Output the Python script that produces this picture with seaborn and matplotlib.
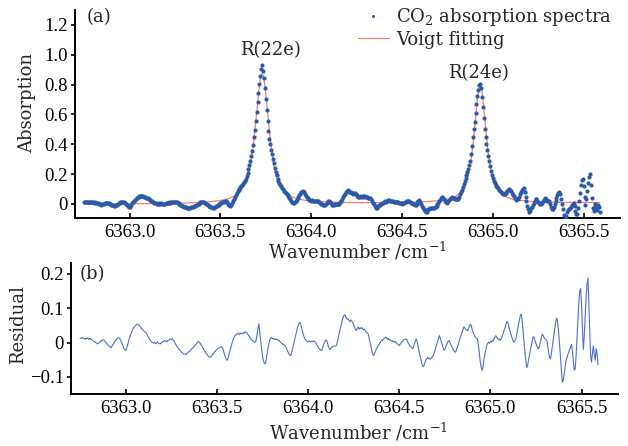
import numpy as np
import matplotlib
matplotlib.use("Agg")
import matplotlib.pyplot as plt
from matplotlib.lines import Line2D
from matplotlib.ticker import FixedLocator, FuncFormatter
import seaborn as sns

# Spectra are sampled every 0.005 cm^-1 starting at 6362.750 cm^-1
start_wavenumber = 6362.750
step = 0.005

# Voigt fitting curve (absorption)
fit = [
    0.000, 0.000, 0.000, 0.000, 0.000, 0.000, 0.000, 0.000, 0.000, 0.000,  # 6362.750
    0.000, 0.000, 0.000, 0.000, 0.000, 0.000, 0.000, 0.000, 0.000, 0.000,  # 6362.800
    0.000, 0.000, 0.000, 0.000, 0.000, 0.001, 0.001, 0.001, 0.001, 0.001,  # 6362.850
    0.001, 0.001, 0.001, 0.001, 0.001, 0.001, 0.001, 0.001, 0.001, 0.001,  # 6362.900
    0.001, 0.001, 0.001, 0.001, 0.001, 0.001, 0.001, 0.001, 0.001, 0.001,  # 6362.950
    0.002, 0.002, 0.002, 0.002, 0.002, 0.002, 0.002, 0.002, 0.002, 0.002,  # 6363.000
    0.002, 0.002, 0.002, 0.002, 0.002, 0.002, 0.002, 0.002, 0.002, 0.002,  # 6363.050
    0.003, 0.003, 0.003, 0.003, 0.003, 0.003, 0.003, 0.003, 0.003, 0.003,  # 6363.100
    0.003, 0.003, 0.003, 0.003, 0.003, 0.003, 0.004, 0.004, 0.004, 0.004,  # 6363.150
    0.004, 0.004, 0.004, 0.004, 0.004, 0.004, 0.005, 0.005, 0.005, 0.005,  # 6363.200
    0.005, 0.005, 0.005, 0.005, 0.005, 0.006, 0.006, 0.006, 0.006, 0.006,  # 6363.250
    0.006, 0.006, 0.007, 0.007, 0.007, 0.007, 0.007, 0.008, 0.008, 0.008,  # 6363.300
    0.008, 0.009, 0.009, 0.010, 0.010, 0.011, 0.011, 0.011, 0.012, 0.012,  # 6363.350
    0.012, 0.013, 0.013, 0.013, 0.014, 0.014, 0.015, 0.015, 0.016, 0.016,  # 6363.400
    0.016, 0.017, 0.018, 0.018, 0.019, 0.020, 0.021, 0.021, 0.022, 0.023,  # 6363.450
    0.024, 0.025, 0.026, 0.027, 0.029, 0.030, 0.031, 0.033, 0.034, 0.036,  # 6363.500
    0.038, 0.041, 0.043, 0.046, 0.048, 0.052, 0.055, 0.059, 0.063, 0.068,  # 6363.550
    0.073, 0.079, 0.086, 0.094, 0.102, 0.112, 0.118, 0.131, 0.145, 0.161,  # 6363.600
    0.180, 0.203, 0.228, 0.259, 0.295, 0.336, 0.382, 0.434, 0.488, 0.550,  # 6363.650
    0.614, 0.680, 0.741, 0.795, 0.837, 0.864, 0.874, 0.864, 0.837, 0.795,  # 6363.700
    0.741, 0.680, 0.614, 0.550, 0.488, 0.434, 0.382, 0.336, 0.295, 0.259,  # 6363.750
    0.228, 0.203, 0.180, 0.161, 0.145, 0.131, 0.120, 0.114, 0.104, 0.096,  # 6363.800
    0.088, 0.081, 0.075, 0.070, 0.065, 0.061, 0.057, 0.054, 0.050, 0.048,  # 6363.850
    0.045, 0.043, 0.040, 0.038, 0.036, 0.035, 0.033, 0.032, 0.031, 0.029,  # 6363.900
    0.028, 0.027, 0.026, 0.025, 0.024, 0.023, 0.023, 0.022, 0.021, 0.020,  # 6363.950
    0.020, 0.020, 0.019, 0.019, 0.018, 0.018, 0.017, 0.017, 0.017, 0.016,  # 6364.000
    0.016, 0.016, 0.015, 0.015, 0.015, 0.014, 0.014, 0.014, 0.014, 0.013,  # 6364.050
    0.013, 0.013, 0.013, 0.012, 0.012, 0.012, 0.012, 0.012, 0.011, 0.011,  # 6364.100
    0.011, 0.011, 0.011, 0.011, 0.011, 0.010, 0.010, 0.010, 0.010, 0.010,  # 6364.150
    0.010, 0.010, 0.010, 0.010, 0.010, 0.010, 0.009, 0.009, 0.009, 0.009,  # 6364.200
    0.009, 0.009, 0.009, 0.009, 0.009, 0.009, 0.009, 0.009, 0.009, 0.009,  # 6364.250
    0.009, 0.009, 0.009, 0.009, 0.009, 0.009, 0.009, 0.009, 0.009, 0.009,  # 6364.300
    0.009, 0.009, 0.009, 0.009, 0.009, 0.009, 0.009, 0.009, 0.009, 0.009,  # 6364.350
    0.009, 0.009, 0.009, 0.009, 0.009, 0.010, 0.010, 0.010, 0.010, 0.010,  # 6364.400
    0.010, 0.010, 0.010, 0.010, 0.010, 0.010, 0.010, 0.010, 0.010, 0.010,  # 6364.450
    0.010, 0.010, 0.010, 0.010, 0.010, 0.011, 0.011, 0.011, 0.011, 0.011,  # 6364.500
    0.011, 0.011, 0.011, 0.012, 0.012, 0.012, 0.013, 0.013, 0.013, 0.014,  # 6364.550
    0.014, 0.014, 0.015, 0.015, 0.015, 0.016, 0.016, 0.016, 0.017, 0.017,  # 6364.600
    0.017, 0.018, 0.018, 0.019, 0.019, 0.020, 0.020, 0.021, 0.021, 0.022,  # 6364.650
    0.022, 0.023, 0.024, 0.025, 0.025, 0.026, 0.027, 0.028, 0.029, 0.031,  # 6364.700
    0.032, 0.033, 0.035, 0.036, 0.038, 0.041, 0.043, 0.046, 0.048, 0.052,  # 6364.750
    0.055, 0.059, 0.064, 0.069, 0.075, 0.082, 0.089, 0.098, 0.108, 0.121,  # 6364.800
    0.135, 0.151, 0.171, 0.194, 0.223, 0.256, 0.296, 0.342, 0.394, 0.450,  # 6364.850
    0.514, 0.581, 0.646, 0.705, 0.752, 0.784, 0.796, 0.784, 0.752, 0.705,  # 6364.900
    0.646, 0.581, 0.514, 0.450, 0.394, 0.342, 0.296, 0.256, 0.223, 0.194,  # 6364.950
    0.171, 0.151, 0.135, 0.121, 0.108, 0.098, 0.089, 0.082, 0.075, 0.069,  # 6365.000
    0.064, 0.059, 0.055, 0.052, 0.048, 0.046, 0.043, 0.041, 0.038, 0.036,  # 6365.050
    0.035, 0.033, 0.032, 0.031, 0.029, 0.028, 0.027, 0.026, 0.025, 0.025,  # 6365.100
    0.024, 0.023, 0.023, 0.022, 0.022, 0.021, 0.020, 0.020, 0.019, 0.019,  # 6365.150
    0.018, 0.018, 0.018, 0.017, 0.017, 0.017, 0.017, 0.017, 0.016, 0.016,  # 6365.200
    0.016, 0.015, 0.015, 0.015, 0.014, 0.014, 0.014, 0.014, 0.014, 0.013,  # 6365.250
    0.013, 0.013, 0.013, 0.013, 0.013, 0.012, 0.012, 0.012, 0.012, 0.012,  # 6365.300
    0.012, 0.012, 0.011, 0.011, 0.011, 0.011, 0.011, 0.011, 0.011, 0.011,  # 6365.350
    0.011, 0.011, 0.011, 0.011, 0.011, 0.011, 0.011, 0.011, 0.011, 0.011,  # 6365.400
    0.011, 0.011, 0.010, 0.010, 0.010, 0.010, 0.010, 0.010, 0.010, 0.010,  # 6365.450
    0.010, 0.010, 0.010, 0.010, 0.010, 0.010, 0.010, 0.010, 0.010, 0.010,  # 6365.500
    0.010, 0.010, 0.010, 0.010, 0.010, 0.010, 0.010, 0.010, 0.010,         # 6365.550
]

# Fitting residual (measured minus fitted)
residual = [
    0.012, 0.013, 0.015, 0.013, 0.012, 0.010, 0.012, 0.011, 0.013, 0.010,  # 6362.750
    0.012, 0.009, 0.011, 0.008, 0.006, 0.004, 0.003, 0.000, -0.002, -0.004,  # 6362.800
    -0.002, 0.001, 0.003, 0.006, 0.005, 0.008, 0.008, 0.004, 0.001, -0.002,  # 6362.850
    -0.005, -0.008, -0.011, -0.013, -0.015, -0.010, -0.006, -0.002, 0.003, 0.006,  # 6362.900
    0.010, 0.012, 0.014, 0.013, 0.010, 0.004, -0.003, -0.010, -0.017, -0.021,  # 6362.950
    -0.023, -0.018, -0.008, 0.002, 0.012, 0.020, 0.027, 0.034, 0.040, 0.044,  # 6363.000
    0.047, 0.050, 0.053, 0.054, 0.051, 0.050, 0.046, 0.042, 0.040, 0.036,  # 6363.050
    0.034, 0.031, 0.030, 0.025, 0.020, 0.016, 0.010, 0.006, 0.003, 0.001,  # 6363.100
    -0.001, -0.002, 0.001, -0.003, -0.001, 0.002, -0.002, -0.003, -0.004, -0.001,  # 6363.150
    0.002, 0.004, 0.003, 0.006, 0.005, 0.002, 0.005, 0.007, 0.008, 0.010,  # 6363.200
    0.009, 0.011, 0.008, 0.004, -0.001, -0.006, -0.010, -0.014, -0.018, -0.021,  # 6363.250
    -0.024, -0.027, -0.029, -0.032, -0.033, -0.034, -0.035, -0.032, -0.030, -0.027,  # 6363.300
    -0.026, -0.022, -0.020, -0.016, -0.015, -0.011, -0.008, -0.006, -0.002, 0.001,  # 6363.350
    0.003, 0.001, -0.003, -0.008, -0.012, -0.017, -0.022, -0.026, -0.031, -0.034,  # 6363.400
    -0.038, -0.040, -0.042, -0.043, -0.040, -0.036, -0.032, -0.029, -0.026, -0.023,  # 6363.450
    -0.020, -0.018, -0.016, -0.015, -0.013, -0.012, -0.014, -0.022, -0.031, -0.040,  # 6363.500
    -0.047, -0.052, -0.048, -0.038, -0.027, -0.017, -0.007, 0.002, 0.010, 0.016,  # 6363.550
    0.020, 0.023, 0.026, 0.025, 0.027, 0.024, 0.028, 0.026, 0.025, 0.029,  # 6363.600
    0.027, 0.031, 0.030, 0.029, 0.024, 0.020, 0.016, 0.012, 0.008, 0.006,  # 6363.650
    0.004, 0.002, 0.001, 0.006, 0.022, 0.040, 0.055, 0.030, 0.005, -0.018,  # 6363.700
    -0.038, -0.052, -0.060, -0.062, -0.052, -0.035, -0.018, -0.004, 0.008, 0.013,  # 6363.750
    0.015, 0.011, 0.012, 0.009, 0.011, 0.008, 0.010, 0.008, 0.006, 0.003,  # 6363.800
    0.001, -0.002, -0.004, -0.006, -0.008, -0.010, -0.015, -0.021, -0.027, -0.033,  # 6363.850
    -0.036, -0.038, -0.030, -0.019, -0.008, 0.004, 0.016, 0.028, 0.039, 0.049,  # 6363.900
    0.055, 0.059, 0.052, 0.042, 0.031, 0.022, 0.014, 0.009, 0.006, 0.004,  # 6363.950
    0.002, 0.005, 0.003, 0.001, 0.004, 0.002, 0.005, 0.004, 0.002, -0.003,  # 6364.000
    -0.008, -0.013, -0.017, -0.020, -0.022, -0.023, -0.015, -0.006, 0.001, 0.006,  # 6364.050
    0.008, 0.002, -0.008, -0.016, -0.021, -0.017, -0.014, -0.012, -0.010, -0.011,  # 6364.100
    -0.010, -0.009, 0.000, 0.012, 0.024, 0.036, 0.048, 0.060, 0.070, 0.077,  # 6364.150
    0.081, 0.078, 0.072, 0.068, 0.070, 0.064, 0.061, 0.066, 0.062, 0.059,  # 6364.200
    0.052, 0.045, 0.038, 0.035, 0.041, 0.045, 0.039, 0.043, 0.040, 0.044,  # 6364.250
    0.040, 0.037, 0.039, 0.033, 0.030, 0.028, 0.025, 0.013, 0.000, -0.012,  # 6364.300
    -0.024, -0.033, -0.038, -0.032, -0.025, -0.019, -0.013, -0.010, -0.004, -0.001,  # 6364.350
    0.004, 0.008, 0.006, 0.011, 0.013, 0.016, 0.014, 0.010, 0.012, 0.007,  # 6364.400
    0.009, 0.005, 0.006, 0.002, 0.004, 0.001, 0.003, -0.001, -0.004, -0.006,  # 6364.450
    -0.009, -0.005, -0.001, 0.002, 0.005, 0.008, 0.009, 0.011, 0.010, 0.004,  # 6364.500
    -0.002, -0.006, -0.010, -0.013, -0.016, -0.018, -0.010, -0.002, 0.007, 0.010,  # 6364.550
    -0.002, -0.015, -0.028, -0.040, -0.052, -0.063, -0.070, -0.068, -0.060, -0.053,  # 6364.600
    -0.048, -0.043, -0.047, -0.045, -0.049, -0.046, -0.043, -0.040, -0.033, -0.024,  # 6364.650
    -0.015, -0.006, 0.004, 0.012, 0.020, 0.013, 0.004, -0.006, -0.015, -0.022,  # 6364.700
    -0.020, -0.013, -0.006, 0.000, 0.004, 0.006, -0.002, -0.008, -0.014, -0.019,  # 6364.750
    -0.024, -0.027, -0.028, -0.020, -0.011, -0.003, 0.007, 0.015, 0.024, 0.032,  # 6364.800
    0.040, 0.046, 0.043, 0.038, 0.036, 0.035, 0.041, 0.048, 0.054, 0.050,  # 6364.850
    0.038, 0.030, 0.024, 0.018, 0.014, 0.012, 0.008, -0.010, -0.035, -0.058,  # 6364.900
    -0.072, -0.081, -0.068, -0.048, -0.034, -0.020, -0.009, -0.003, 0.001, -0.002,  # 6364.950
    0.003, 0.001, 0.006, 0.004, 0.011, 0.016, 0.020, 0.015, 0.012, 0.009,  # 6365.000
    0.010, 0.006, 0.012, 0.018, 0.026, 0.034, 0.043, 0.052, 0.061, 0.060,  # 6365.050
    0.050, 0.038, 0.029, 0.021, 0.012, 0.004, 0.001, 0.005, 0.011, 0.025,  # 6365.100
    0.040, 0.055, 0.068, 0.080, 0.083, 0.060, 0.030, 0.000, -0.030, -0.055,  # 6365.150
    -0.073, -0.064, -0.048, -0.035, -0.022, -0.008, 0.006, 0.017, 0.015, 0.005,  # 6365.200
    -0.003, -0.010, -0.016, -0.018, -0.008, 0.004, 0.015, 0.024, 0.020, 0.014,  # 6365.250
    0.010, 0.008, 0.006, -0.012, -0.030, -0.045, -0.048, -0.030, -0.012, 0.008,  # 6365.300
    0.028, 0.048, 0.065, 0.072, 0.055, 0.025, -0.010, -0.045, -0.085, -0.115,  # 6365.350
    -0.110, -0.090, -0.068, -0.052, -0.043, -0.035, -0.028, -0.020, -0.012, -0.005,  # 6365.400
    -0.025, -0.055, -0.080, -0.078, -0.040, 0.010, 0.065, 0.115, 0.150, 0.158,  # 6365.450
    0.110, 0.040, -0.020, 0.020, 0.075, 0.130, 0.170, 0.188, 0.120, 0.030,  # 6365.500
    -0.040, -0.057, -0.030, -0.010, -0.035, -0.052, -0.018, -0.030, -0.065,  # 6365.550
]

peak_labels = ["R(22e)", "R(24e)"]
peak_label_x = [6363.775, 6364.920]
peak_label_y = [1.03, 0.88]

x_ticks = [6363.0, 6363.5, 6364.0, 6364.5, 6365.0, 6365.5]
abs_ticks = [0, 0.2, 0.4, 0.6, 0.8, 1.0, 1.2]
res_ticks = [-0.1, 0, 0.1, 0.2]

assert len(fit) == len(residual)
fit = np.array(fit)
residual = np.array(residual)
wavenumber = start_wavenumber + step * np.arange(len(fit))
spectrum = fit + residual

sns.set_style("ticks")
plt.rcParams["font.family"] = ["DejaVu Serif"]
plt.rcParams["mathtext.fontset"] = "dejavuserif"
plt.rcParams["axes.unicode_minus"] = True

TEXT_SIZE = 13
TICK_FONT = {"family": "Liberation Serif", "size": 13.5}
DOT_BLUE = "#2c5aa8"
FIT_RED = "#f08070"
RES_BLUE = "#5070c4"

fig = plt.figure(figsize=(6.28, 4.46), dpi=100)
W, H = 628, 446
ax1 = fig.add_axes([75 / W, 1 - 218 / H, 545 / W, 208 / H])
ax2 = fig.add_axes([71 / W, 1 - 394 / H, 547 / W, 131 / H])

# (a) absorption spectrum with Voigt fit
sns.lineplot(x=wavenumber, y=fit, ax=ax1, color=FIT_RED, linewidth=0.9,
             estimator=None, sort=False, zorder=2)
sns.scatterplot(x=wavenumber, y=spectrum, ax=ax1, color=DOT_BLUE, s=9,
                linewidth=0, zorder=3)

for lab, lx, ly in zip(peak_labels, peak_label_x, peak_label_y):
    ax1.text(lx, ly, lab, ha="center", va="center", fontsize=TEXT_SIZE)

handles = [
    Line2D([], [], linestyle="none", marker="o", markersize=2.2,
           markerfacecolor=DOT_BLUE, markeredgewidth=0),
    Line2D([], [], color=FIT_RED, linewidth=0.9),
]
ax1.legend(handles, [r"CO$_2$ absorption spectra", "Voigt fitting"],
           loc="upper right", bbox_to_anchor=(612 / W, 1 - 6 / H),
           bbox_transform=fig.transFigure, frameon=False, borderpad=0,
           borderaxespad=0, handlelength=1.7, handletextpad=0.4,
           labelspacing=0.15, fontsize=TEXT_SIZE)

ax1.set_xlim(6362.70, 6365.70)
ax1.set_ylim(-0.094, 1.30)
ax1.yaxis.set_major_locator(FixedLocator(abs_ticks))
ax1.yaxis.set_major_formatter(FuncFormatter(lambda v, p: "0" if abs(v) < 1e-9 else f"{v:.1f}"))
ax1.set_ylabel("Absorption", fontsize=TEXT_SIZE)
ax1.yaxis.set_label_coords(-0.071, 0.553)
ax1.set_xlabel(r"Wavenumber /cm$^{-1}$", fontsize=TEXT_SIZE)
ax1.xaxis.set_label_coords(0.519, -0.106)
ax1.text(0.022, 0.966, "(a)", transform=ax1.transAxes, ha="left",
         va="center", fontsize=TEXT_SIZE)

# (b) fitting residual
sns.lineplot(x=wavenumber, y=residual, ax=ax2, color=RES_BLUE, linewidth=0.8,
             estimator=None, sort=False)
ax2.set_xlim(6362.70, 6365.70)
ax2.set_ylim(-0.15, 0.232)
ax2.yaxis.set_major_locator(FixedLocator(res_ticks))
ax2.yaxis.set_major_formatter(FuncFormatter(lambda v, p: "0" if abs(v) < 1e-9 else f"{v:.1f}".replace("-", "\u2212")))
ax2.set_ylabel("Residual", fontsize=TEXT_SIZE)
ax2.yaxis.set_label_coords(-0.080, 0.534)
ax2.set_xlabel(r"Wavenumber /cm$^{-1}$", fontsize=TEXT_SIZE)
ax2.xaxis.set_label_coords(0.525, -0.205)
ax2.text(0.016, 0.916, "(b)", transform=ax2.transAxes, ha="left",
         va="center", fontsize=TEXT_SIZE)

for ax in (ax1, ax2):
    ax.xaxis.set_major_locator(FixedLocator(x_ticks))
    ax.xaxis.set_major_formatter(FuncFormatter(lambda v, p: f"{v:.1f}"))
    sns.despine(ax=ax)
    for side in ("left", "bottom"):
        ax.spines[side].set_linewidth(1.4)
        ax.spines[side].set_color("black")
    ax.tick_params(axis="x", direction="in", length=3.5, width=1.2, pad=4,
                   colors="black")
    ax.tick_params(axis="y", direction="out", length=3, width=1.2, pad=2,
                   colors="black")
    for t in ax.get_xticklabels() + ax.get_yticklabels():
        t.set_fontfamily(TICK_FONT["family"])
        t.set_fontsize(TICK_FONT["size"])

fig.savefig("out.png", dpi=100)
